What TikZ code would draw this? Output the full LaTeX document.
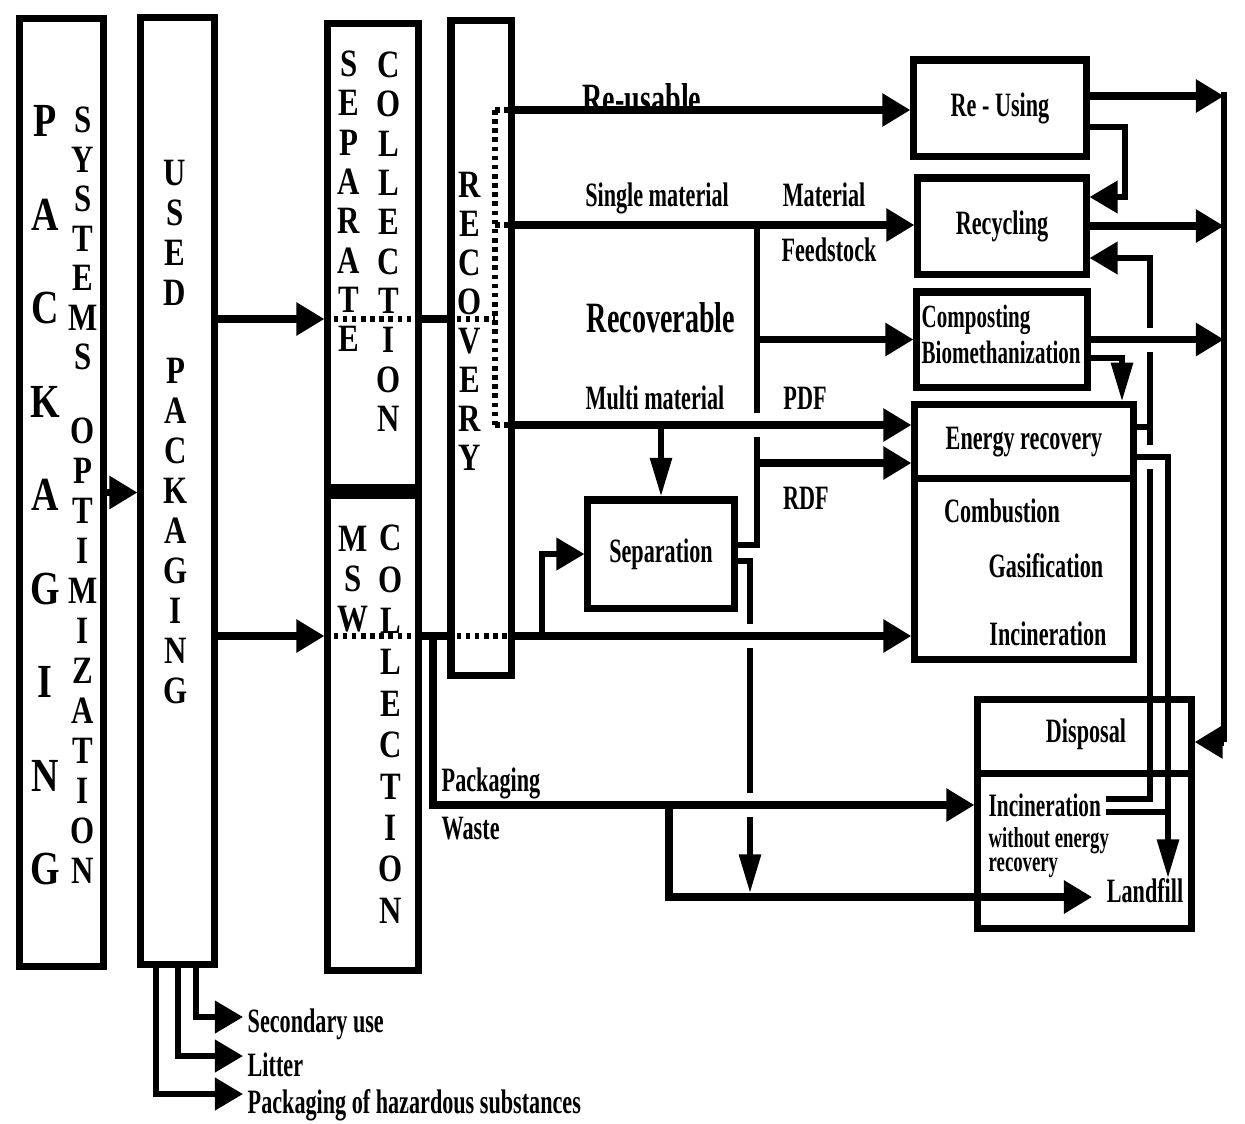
\documentclass[tikz,border=0pt]{standalone}
\usepackage{fontspec}
\usepackage{tikz}
\usetikzlibrary{arrows.meta,calc}
\newfontfamily\lblfont[FakeStretch=0.65]{Liberation Serif}
\newfontfamily\capfont[FakeStretch=0.8]{Liberation Serif}

\begin{document}
\begin{tikzpicture}[
    x=0.01cm, y=-0.01cm,
    box/.style={draw, line width=2pt, inner sep=0pt},
    lbl/.style={font=\lblfont\bfseries\fontsize{9.7}{11}\selectfont, inner sep=0pt},
    biglbl/.style={font=\lblfont\bfseries\fontsize{12.3}{14}\selectfont, inner sep=0pt},
    smalllbl/.style={font=\lblfont\bfseries\fontsize{8.2}{9.5}\selectfont, inner sep=0pt},
    letter/.style={font=\capfont\bfseries\fontsize{11}{12}\selectfont, inner sep=0pt},
    bigletter/.style={font=\capfont\bfseries\fontsize{13.5}{14}\selectfont, inner sep=0pt},
    flow/.style={line width=2.2pt, -{Triangle[length=8pt,width=9pt]}},
    drop/.style={line width=1.6pt, -{Triangle[length=11pt,width=6pt]}},
    link/.style={line width=1.6pt},
    dots/.style={line width=1.5pt, dash pattern=on 1.3pt off 1.3pt}
]

\useasboundingbox (0,6) rectangle (1245,1129);

% Rows and columns of the connectors
\coordinate (rowTop) at (0,98);
\coordinate (rowRx) at (0,102);
\coordinate (rowRU) at (0,116);
\coordinate (rowRy) at (0,133);
\coordinate (rowRz) at (0,203);
\coordinate (rowSM) at (0,231);
\coordinate (rowRw) at (0,264);
\coordinate (rowSP) at (0,325);
\coordinate (rowCE) at (0,364);
\coordinate (rowMM) at (0,431);
\coordinate (rowEa) at (0,433);
\coordinate (rowEb) at (0,463);
\coordinate (rowRD) at (0,469);
\coordinate (rowSa) at (0,551);
\coordinate (rowSb) at (0,567);
\coordinate (rowIN) at (0,642);
\coordinate (rowDR) at (0,748);
\coordinate (rowDa) at (0,805);
\coordinate (rowPW) at (0,811);
\coordinate (rowDb) at (0,818);
\coordinate (rowLF) at (0,903);
\coordinate (rowB1) at (0,1023);
\coordinate (rowB2) at (0,1062);
\coordinate (rowB3) at (0,1100);
\coordinate (colS3) at (156,0);
\coordinate (colS2) at (178,0);
\coordinate (colS1) at (196,0);
\coordinate (colTip) at (243,0);
\coordinate (colPW) at (433,0);
\coordinate (colDot) at (495,0);
\coordinate (colSep) at (542,0);
\coordinate (colLF) at (669,0);
\coordinate (colV2) at (750,0);
\coordinate (colV1) at (757,0);
\coordinate (colCE) at (1122,0);
\coordinate (colRR) at (1125,0);
\coordinate (colER) at (1150,0);
\coordinate (colEL) at (1168,0);
\coordinate (colR) at (1224,0);

% Tall columns
\node (pack) at (61.5,498.5) [box, minimum width=0.83cm, minimum height=9.47cm] {};
\node (used) at (177.5,497) [box, minimum width=0.73cm, minimum height=9.46cm] {};
\node (sepcol) at (373,262) [box, minimum width=0.90cm, minimum height=4.64cm] {};
\node (mswcol) at (373,735) [box, minimum width=0.90cm, minimum height=4.82cm] {};
\node (recov) at (481,354) [box, minimum width=0.60cm, minimum height=6.54cm] {};
\draw [line width=2pt] ([yshift=-0.04cm]sepcol.south west) -- ([yshift=-0.04cm]sepcol.south east);

\foreach \ch [count=\i from 0] in {P,A,C,K,A,G,I,N,G}
    \node (pk\i) at (45,{127+93.5*\i}) [bigletter] {\ch};
\foreach \ch [count=\i from 0] in {S,Y,S,T,E,M,S}
    \node (sy\i) at (83,{126+39.5*\i}) [letter] {\ch};
\foreach \ch [count=\i from 0] in {O,P,T,I,M,I,Z,A,T,I,O,N}
    \node (op\i) at (83,{437+40*\i}) [letter] {\ch};
\foreach \ch [count=\i from 0] in {U,S,E,D}
    \node (us\i) at (175,{179+40*\i}) [letter] {\ch};
\foreach \ch [count=\i from 0] in {P,A,C,K,A,G,I,N,G}
    \node (up\i) at (176,{377+40*\i}) [letter] {\ch};
\foreach \ch [count=\i from 0] in {S,E,P,A,R,A,T,E}
    \node (se\i) at (349,{70+39.3*\i}) [letter] {\ch};
\foreach \ch [count=\i from 0] in {C,O,L,L,E,C,T,I,O,N}
    \node (sc\i) at (389,{71+39.3*\i}) [letter] {\ch};
\foreach \ch [count=\i from 0] in {M,S,W}
    \node (mw\i) at (353,{545+40*\i}) [letter] {\ch};
\foreach \ch [count=\i from 0] in {C,O,L,L,E,C,T,I,O,N}
    \node (mc\i) at (391,{544+41.4*\i}) [letter] {\ch};
\foreach \ch [count=\i from 0] in {R,E,C,O,V,E,R,Y}
    \node (rc\i) at (470,{191+39*\i}) [letter] {\ch};

% Treatment boxes
\node (reuse) at (1000,114) [box, lbl, minimum width=1.72cm, minimum height=0.96cm] {Re - Using};
\node (recyc) at (1002,232) [box, lbl, minimum width=1.68cm, minimum height=0.96cm] {Recycling};
\node (compo) at (1002,345.5) [box, minimum width=1.70cm, minimum height=0.95cm] {};
\node (energy) at (1024,538) [box, minimum width=2.18cm, minimum height=2.54cm] {};
\node (separ) at (661,560) [box, lbl, minimum width=1.46cm, minimum height=1.08cm] {Separation};
\node (dispo) at (1084.5,820) [box, minimum width=2.13cm, minimum height=2.28cm] {};
\draw [line width=2pt] (energy.west |- 0,484) -- (energy.east |- 0,484);
\draw [line width=2pt] (dispo.west |- 0,779) -- (dispo.east |- 0,779);

% Box texts
\node (cmp1) at (921,326) [lbl, anchor=west, font=\lblfont\bfseries\fontsize{9.2}{11}\selectfont] {Composting};
\node (cmp2) at (921,358.5) [lbl, anchor=west, font=\lblfont\bfseries\fontsize{9.2}{11}\selectfont] {Biomethanization};
\node (enr) at (1024,448) [lbl] {Energy recovery};
\node (comb) at (1002,517) [lbl] {Combustion};
\node (gasi) at (1046,572) [lbl] {Gasification};
\node (inci) at (1048,640) [lbl] {Incineration};
\node (disp) at (1086,740) [lbl] {Disposal};
\node (dinc) at (988,811) [lbl, anchor=west, font=\lblfont\bfseries\fontsize{9.3}{11}\selectfont] {Incineration};
\node (dwo) at (988,847) [smalllbl, anchor=west] {without energy};
\node (drc) at (988,874) [smalllbl, anchor=west] {recovery};
\node (land) at (1145,897) [lbl] {Landfill};

% Flow labels
\node (lbReu) at (642,105) [biglbl] {Re-usable};
\node (lbSin) at (657,204) [lbl] {Single material};
\node (lbMat) at (824,201) [lbl] {Material};
\node (lbFee) at (829,256) [lbl] {Feedstock};
\node (lbRec) at (661,324) [biglbl] {Recoverable};
\node (lbMul) at (655,404) [lbl] {Multi material};
\node (lbPdf) at (805,404) [lbl] {PDF};
\node (lbRdf) at (806,504) [lbl] {RDF};
\node (lbPk) at (441,789) [lbl, anchor=west] {Packaging};
\node (lbWa) at (441,835) [lbl, anchor=west] {Waste};
\node (lbSec) at (247,1030) [lbl, anchor=west] {Secondary use};
\node (lbLit) at (247,1071) [lbl, anchor=west] {Litter};
\node (lbHaz) at (247,1111) [lbl, anchor=west] {Packaging of hazardous substances};

% Packaging -> used packaging -> collection
\draw [flow] (pack.east) -- (pack.east -| used.west);
\draw [flow] (used.east |- rowSP) -- (sepcol.west |- rowSP);
\draw [dots] (sepcol.west |- rowSP) -- (sepcol.east |- rowSP);
\draw [line width=2.2pt] (sepcol.east |- rowSP) -- (recov.west |- rowSP);
\draw [dots] (recov.west |- rowSP) -- (colDot |- rowSP);
\draw [flow] (used.east |- rowIN) -- (mswcol.west |- rowIN);
\draw [dots] (mswcol.west |- rowIN) -- (mswcol.east |- rowIN);
\draw [line width=2.2pt] (mswcol.east |- rowIN) -- (recov.west |- rowIN);
\draw [dots] (recov.west |- rowIN) -- (recov.east |- rowIN);

% Recovery split
\draw [dots] (colDot |- rowRU) -- (colDot |- rowMM);
\draw [dots] (colDot |- rowRU) -- (recov.east |- rowRU);
\draw [dots] (colDot |- rowSM) -- (recov.east |- rowSM);
\draw [dots] (colDot |- rowMM) -- (recov.east |- rowMM);
\draw [flow] (recov.east |- rowRU) -- (reuse.west |- rowRU);
\draw [flow] (recov.east |- rowSM) -- (recyc.west |- rowSM);
\draw [flow] (recov.east |- rowMM) -- (energy.west |- rowMM);
\draw [flow] (recov.east |- rowIN) -- (energy.west |- rowIN);

% Recoverable / RDF branch
\draw [link] (colV1 |- rowSM) -- ($(colV1 |- rowMM)+(0,-12)$);
\draw [link] ($(colV1 |- rowMM)+(0,12)$) -- (colV1 |- rowSa) -- (separ.east |- rowSa);
\draw [flow] (compo.west -| colV1) -- (compo.west);
\draw [flow] (colV1 |- rowRD) -- (energy.west |- rowRD);
\draw [drop] (separ.north |- rowMM) -- (separ.north);
\draw [flow, line width=1.6pt] (colSep |- rowIN) -- (colSep |- separ.west) -- (separ.west);
\draw [link] (separ.east |- rowSb) -- (colV2 |- rowSb) -- ($(colV2 |- rowIN)+(0,-12)$);
\draw [link] ($(colV2 |- rowIN)+(0,12)$) -- ($(colV2 |- rowPW)+(0,-12)$);
\draw [drop] ($(colV2 |- rowPW)+(0,12)$) -- ($(colV2 |- rowLF)+(0,-4)$);

% Packaging waste to disposal
\draw [flow] (colPW |- rowIN) -- (colPW |- rowPW) -- (dispo.west |- rowPW);
\draw [flow] (colLF |- rowPW) -- (colLF |- rowLF) -- ($(land.west |- rowLF)+(-14,0)$);

% Right hand returns
\draw [flow] (reuse.east |- rowRx) -- (colR |- rowRx);
\draw [flow] (recyc.east) -- (recyc.east -| colR);
\draw [flow] (compo.east) -- (compo.east -| colR);
\draw [link] (colR |- rowTop) -- (colR |- rowDR);
\draw [flow] (colR |- rowDR) -- (dispo.east |- rowDR);
\draw [flow, line width=1.6pt] (reuse.east |- rowRy) -- (colRR |- rowRy) -- (colRR |- rowRz) -- (recyc.east |- rowRz);
\draw [drop] (compo.east |- rowCE) -- (colCE |- rowCE) -- (colCE |- energy.north);
\draw [link] (energy.east |- rowEa) -- (colER |- rowEa);
\draw [link] ($(colER |- rowEb)+(0,-12)$) -- ($(colER |- compo.east)+(0,12)$);
\draw [flow, line width=1.6pt] ($(colER |- compo.east)+(0,-12)$) -- (colER |- rowRw) -- (recyc.east |- rowRw);
\draw [link] ([xshift=0.04cm]dinc.east |- rowDa) -- (colER |- rowDa) -- ($(colER |- rowEb)+(0,12)$);
\draw [drop] (energy.east |- rowEb) -- (colEL |- rowEb) -- (colEL |- land.north);
\draw [link] ([xshift=0.04cm]dinc.east |- rowDb) -- (colEL |- rowDb);

% Used packaging leaving the system
\draw [flow, line width=1.6pt] (colS1 |- used.south) -- (colS1 |- rowB1) -- (colTip |- rowB1);
\draw [flow, line width=1.6pt] (colS2 |- used.south) -- (colS2 |- rowB2) -- (colTip |- rowB2);
\draw [flow, line width=1.6pt] (colS3 |- used.south) -- (colS3 |- rowB3) -- (colTip |- rowB3);

\end{tikzpicture}
\end{document}
